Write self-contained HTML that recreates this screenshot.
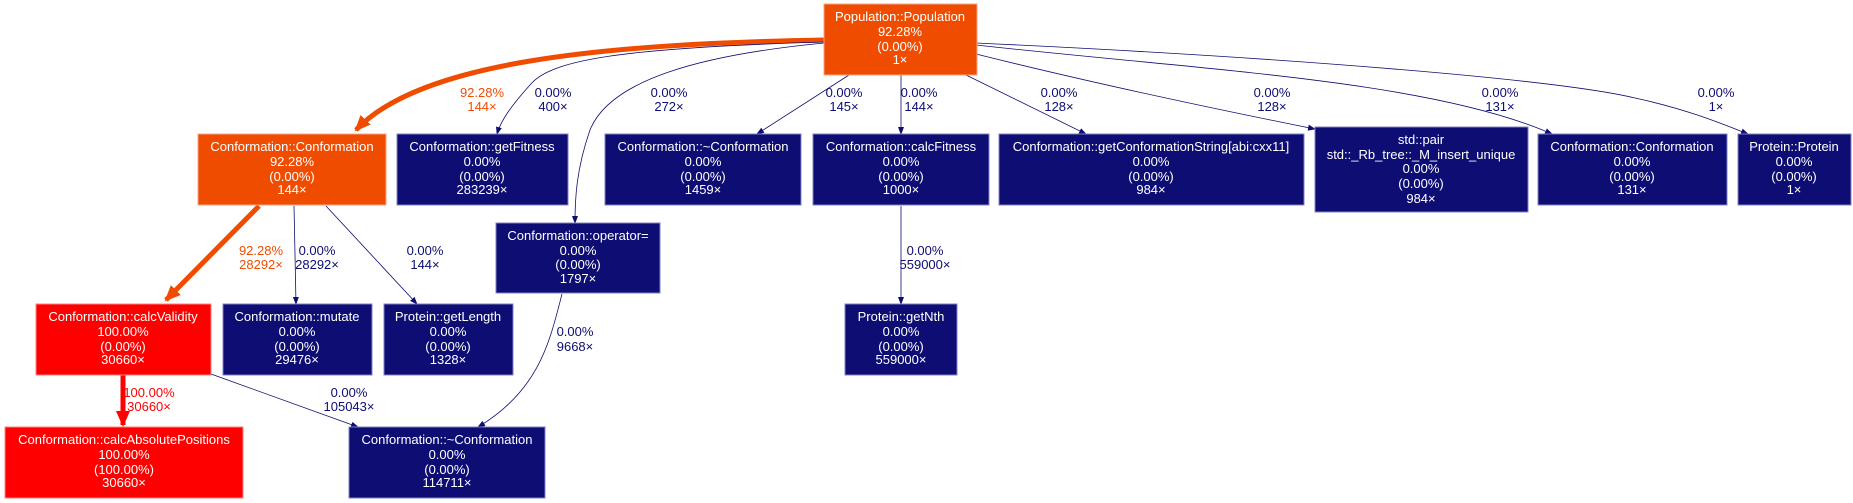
<!DOCTYPE html>
<html><head><meta charset="utf-8"><style>
html,body{margin:0;padding:0;background:#fff;}
svg{display:block;font-family:"Liberation Sans",Arial,sans-serif;}
.n text{fill:#fff;font-size:13px;text-anchor:middle;}
.el{font-size:13px;text-anchor:middle;fill:#0d0d73;}
.eo{font-size:13px;text-anchor:middle;fill:#f04c00;}
.er{font-size:13px;text-anchor:middle;fill:#ff0000;}
.b{fill:none;stroke:#0d0d73;stroke-width:0.8;}
</style></head><body>
<svg width="1853" height="503" viewBox="0 0 1853 503">
<defs>
<marker id="ab" markerWidth="8" markerHeight="6" refX="7" refY="3" orient="auto" markerUnits="userSpaceOnUse"><path d="M0,0 L8,3 L0,6z" fill="#0d0d73"/></marker>
<marker id="ao" markerWidth="16" markerHeight="14" refX="14" refY="7" orient="auto" markerUnits="userSpaceOnUse"><path d="M0,0 L16,7 L0,14z" fill="#f04c00"/></marker>
<marker id="ar" markerWidth="16" markerHeight="14" refX="14" refY="7" orient="auto" markerUnits="userSpaceOnUse"><path d="M0,0 L16,7 L0,14z" fill="#ff0000"/></marker>
</defs>

<!-- edges -->
<g>
<path d="M824,40 C600,44 420,62 356,130" fill="none" stroke="#f04c00" stroke-width="5" marker-end="url(#ao)"/>
<path class="b" d="M824,42 C620,48 550,60 530,85 C512,105 501,120 497,134" marker-end="url(#ab)"/>
<path class="b" d="M824,43 C700,55 610,80 590,130 C576,170 575,200 575,223" marker-end="url(#ab)"/>
<path class="b" d="M849,75 L757,134" marker-end="url(#ab)"/>
<path class="b" d="M901,75 L901,134" marker-end="url(#ab)"/>
<path class="b" d="M966,75 L1086,134" marker-end="url(#ab)"/>
<path class="b" d="M976,54 C1100,85 1220,110 1315,129" marker-end="url(#ab)"/>
<path class="b" d="M976,45 C1200,70 1430,80 1552,134" marker-end="url(#ab)"/>
<path class="b" d="M976,43 C1300,58 1560,80 1635,98 C1690,110 1725,125 1748,134" marker-end="url(#ab)"/>
<path d="M259,206 L166,300" fill="none" stroke="#f04c00" stroke-width="5" marker-end="url(#ao)"/>
<path class="b" d="M294,206 L296,304" marker-end="url(#ab)"/>
<path class="b" d="M326,206 L417,304" marker-end="url(#ab)"/>
<path class="b" d="M901,206 L901,304" marker-end="url(#ab)"/>
<path class="b" d="M562,294 C550,340 540,390 478,427" marker-end="url(#ab)"/>
<path d="M123,375 L123,425" fill="none" stroke="#ff0000" stroke-width="5" marker-end="url(#ar)"/>
<path class="b" d="M211,374 L358,427" marker-end="url(#ab)"/>
</g>

<!-- edge labels -->
<g>
<text class="eo" x="482" y="97">92.28%</text><text class="eo" x="482" y="111">144×</text>
<text class="el" x="553" y="97">0.00%</text><text class="el" x="553" y="111">400×</text>
<text class="el" x="669" y="97">0.00%</text><text class="el" x="669" y="111">272×</text>
<text class="el" x="844" y="97">0.00%</text><text class="el" x="844" y="111">145×</text>
<text class="el" x="919" y="97">0.00%</text><text class="el" x="919" y="111">144×</text>
<text class="el" x="1059" y="97">0.00%</text><text class="el" x="1059" y="111">128×</text>
<text class="el" x="1272" y="97">0.00%</text><text class="el" x="1272" y="111">128×</text>
<text class="el" x="1500" y="97">0.00%</text><text class="el" x="1500" y="111">131×</text>
<text class="el" x="1716" y="97">0.00%</text><text class="el" x="1716" y="111">1×</text>
<text class="eo" x="261" y="255">92.28%</text><text class="eo" x="261" y="269">28292×</text>
<text class="el" x="317" y="255">0.00%</text><text class="el" x="317" y="269">28292×</text>
<text class="el" x="425" y="255">0.00%</text><text class="el" x="425" y="269">144×</text>
<text class="el" x="925" y="255">0.00%</text><text class="el" x="925" y="269">559000×</text>
<text class="el" x="575" y="336">0.00%</text><text class="el" x="575" y="351">9668×</text>
<text class="er" x="149" y="397">100.00%</text><text class="er" x="149" y="411">30660×</text>
<text class="el" x="349" y="397">0.00%</text><text class="el" x="349" y="411">105043×</text>
</g>

<!-- nodes -->
<g class="n"><rect x="824" y="4" width="153" height="71" fill="#f04c00" stroke="#f8a080"/>
<text x="900" y="21">Population::Population</text><text x="900" y="36">92.28%</text><text x="900" y="51">(0.00%)</text><text x="900" y="64">1×</text></g>

<g class="n"><rect x="198" y="134" width="188" height="71" fill="#f04c00" stroke="#f8a080"/>
<text x="292" y="151">Conformation::Conformation</text><text x="292" y="166">92.28%</text><text x="292" y="181">(0.00%)</text><text x="292" y="194">144×</text></g>

<g class="n"><rect x="397" y="134" width="171" height="71" fill="#0d0d73" stroke="#8080c0"/>
<text x="482" y="151">Conformation::getFitness</text><text x="482" y="166">0.00%</text><text x="482" y="181">(0.00%)</text><text x="482" y="194">283239×</text></g>

<g class="n"><rect x="605" y="134" width="196" height="71" fill="#0d0d73" stroke="#8080c0"/>
<text x="703" y="151">Conformation::~Conformation</text><text x="703" y="166">0.00%</text><text x="703" y="181">(0.00%)</text><text x="703" y="194">1459×</text></g>

<g class="n"><rect x="813" y="134" width="176" height="71" fill="#0d0d73" stroke="#8080c0"/>
<text x="901" y="151">Conformation::calcFitness</text><text x="901" y="166">0.00%</text><text x="901" y="181">(0.00%)</text><text x="901" y="194">1000×</text></g>

<g class="n"><rect x="999" y="134" width="305" height="71" fill="#0d0d73" stroke="#8080c0"/>
<text x="1151" y="151">Conformation::getConformationString[abi:cxx11]</text><text x="1151" y="166">0.00%</text><text x="1151" y="181">(0.00%)</text><text x="1151" y="194">984×</text></g>

<g class="n"><rect x="1315" y="127" width="213" height="85" fill="#0d0d73" stroke="#8080c0"/>
<text x="1421" y="144">std::pair</text><text x="1421" y="159">std::_Rb_tree::_M_insert_unique</text><text x="1421" y="173">0.00%</text><text x="1421" y="188">(0.00%)</text><text x="1421" y="203">984×</text></g>

<g class="n"><rect x="1538" y="134" width="189" height="71" fill="#0d0d73" stroke="#8080c0"/>
<text x="1632" y="151">Conformation::Conformation</text><text x="1632" y="166">0.00%</text><text x="1632" y="181">(0.00%)</text><text x="1632" y="194">131×</text></g>

<g class="n"><rect x="1738" y="134" width="113" height="71" fill="#0d0d73" stroke="#8080c0"/>
<text x="1794" y="151">Protein::Protein</text><text x="1794" y="166">0.00%</text><text x="1794" y="181">(0.00%)</text><text x="1794" y="194">1×</text></g>

<g class="n"><rect x="496" y="223" width="164" height="70" fill="#0d0d73" stroke="#8080c0"/>
<text x="578" y="240">Conformation::operator=</text><text x="578" y="255">0.00%</text><text x="578" y="269">(0.00%)</text><text x="578" y="283">1797×</text></g>

<g class="n"><rect x="36" y="304" width="175" height="71" fill="#ff0000" stroke="#ff8080"/>
<text x="123" y="321">Conformation::calcValidity</text><text x="123" y="336">100.00%</text><text x="123" y="351">(0.00%)</text><text x="123" y="364">30660×</text></g>

<g class="n"><rect x="223" y="304" width="149" height="71" fill="#0d0d73" stroke="#8080c0"/>
<text x="297" y="321">Conformation::mutate</text><text x="297" y="336">0.00%</text><text x="297" y="351">(0.00%)</text><text x="297" y="364">29476×</text></g>

<g class="n"><rect x="384" y="304" width="129" height="71" fill="#0d0d73" stroke="#8080c0"/>
<text x="448" y="321">Protein::getLength</text><text x="448" y="336">0.00%</text><text x="448" y="351">(0.00%)</text><text x="448" y="364">1328×</text></g>

<g class="n"><rect x="845" y="304" width="112" height="71" fill="#0d0d73" stroke="#8080c0"/>
<text x="901" y="321">Protein::getNth</text><text x="901" y="336">0.00%</text><text x="901" y="351">(0.00%)</text><text x="901" y="364">559000×</text></g>

<g class="n"><rect x="5" y="427" width="238" height="71" fill="#ff0000" stroke="#ff8080"/>
<text x="124" y="444">Conformation::calcAbsolutePositions</text><text x="124" y="459">100.00%</text><text x="124" y="474">(100.00%)</text><text x="124" y="487">30660×</text></g>

<g class="n"><rect x="349" y="427" width="196" height="71" fill="#0d0d73" stroke="#8080c0"/>
<text x="447" y="444">Conformation::~Conformation</text><text x="447" y="459">0.00%</text><text x="447" y="474">(0.00%)</text><text x="447" y="487">114711×</text></g>
</svg>
</body></html>
